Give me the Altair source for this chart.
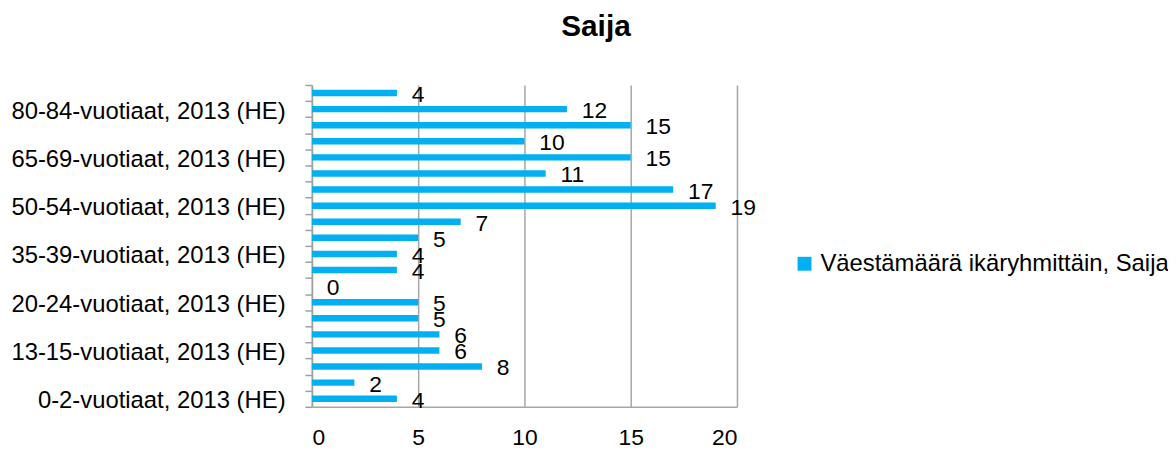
import altair as alt
import pandas as pd

ages = ["0-2", "3-6", "7-12", "13-15", "16-17", "18-19", "20-24", "25-29", "30-34",
        "35-39", "40-44", "45-49", "50-54", "55-59", "60-64", "65-69", "70-74",
        "75-79", "80-84", "85-"]
values = [4, 2, 8, 6, 6, 5, 5, 0, 4, 4, 5, 7, 19, 17, 11, 15, 10, 15, 12, 4]
shown = ["0-2", "13-15", "20-24", "35-39", "50-54", "65-69", "80-84"]
series_name = "Väestämäärä ikäryhmittäin, Saija"
title_text = "Saija"
x_ticks = [0, 5, 10, 15, 20]

cats = [f"{a}-vuotiaat, 2013 (HE)" for a in ages]
shown_labels = [f"{a}-vuotiaat, 2013 (HE)" for a in shown]
df = pd.DataFrame({"cat": cats, "value": values, "series": series_name})

FONT = "Liberation Sans"
FS = 23
order = list(reversed(cats))
label_list = "[" + ",".join("'" + s + "'" for s in shown_labels) + "]"

y = alt.Y("cat:N", sort=order, title=None,
          scale=alt.Scale(paddingInner=0, paddingOuter=0),
          axis=alt.Axis(labelExpr=f"indexof({label_list}, datum.value) >= 0 ? datum.value : ''",
                        tickBand="extent", tickSize=7, tickColor="#A0A0A0", tickWidth=1.5,
                        domainColor="#A0A0A0", domainWidth=1.5, labelFontSize=24,
                        labelFont=FONT, labelColor="#000000", labelPadding=20, labelLimit=0,
                        labelOffset=2, grid=False))

x = alt.X("value:Q", title=None,
          scale=alt.Scale(domain=[0, 20], nice=False),
          axis=alt.Axis(values=x_ticks, grid=True, gridColor="#A6A6A6", gridWidth=1.5,
                        domainColor="#A6A6A6", domainWidth=1.5, ticks=False,
                        labelFontSize=FS, labelFont=FONT, labelColor="#000000",
                        labelPadding=20))

bars = alt.Chart(df).mark_bar(size=6.5).encode(
    x=x, y=y,
    color=alt.Color("series:N", scale=alt.Scale(range=["#00B0F0"]),
                    legend=alt.Legend(title=None, orient="none", legendX=484, legendY=168,
                                      symbolType="square", symbolSize=196,
                                      symbolStrokeWidth=0,
                                      labelFontSize=24, labelFont=FONT,
                                      labelColor="#000000", labelLimit=0))
)

texts = alt.Chart(df).mark_text(align="left", baseline="middle", dx=15, dy=2,
                                fontSize=FS, font=FONT, color="#000000").encode(
    x="value:Q", y=alt.Y("cat:N", sort=order), text="value:Q"
)

chart = (bars + texts).properties(
    width=428, height=324,
    title=alt.TitleParams(title_text, fontSize=30, font=FONT, fontWeight="bold",
                          color="#000000", anchor="middle", dx=72, offset=31),
    autosize=alt.AutoSizeParams(type="none"),
    padding={"left": 306, "top": 76, "right": 434, "bottom": 42},
).configure_view(stroke=None)

chart.save("out.html", embed_options={"renderer": "svg", "actions": False})
